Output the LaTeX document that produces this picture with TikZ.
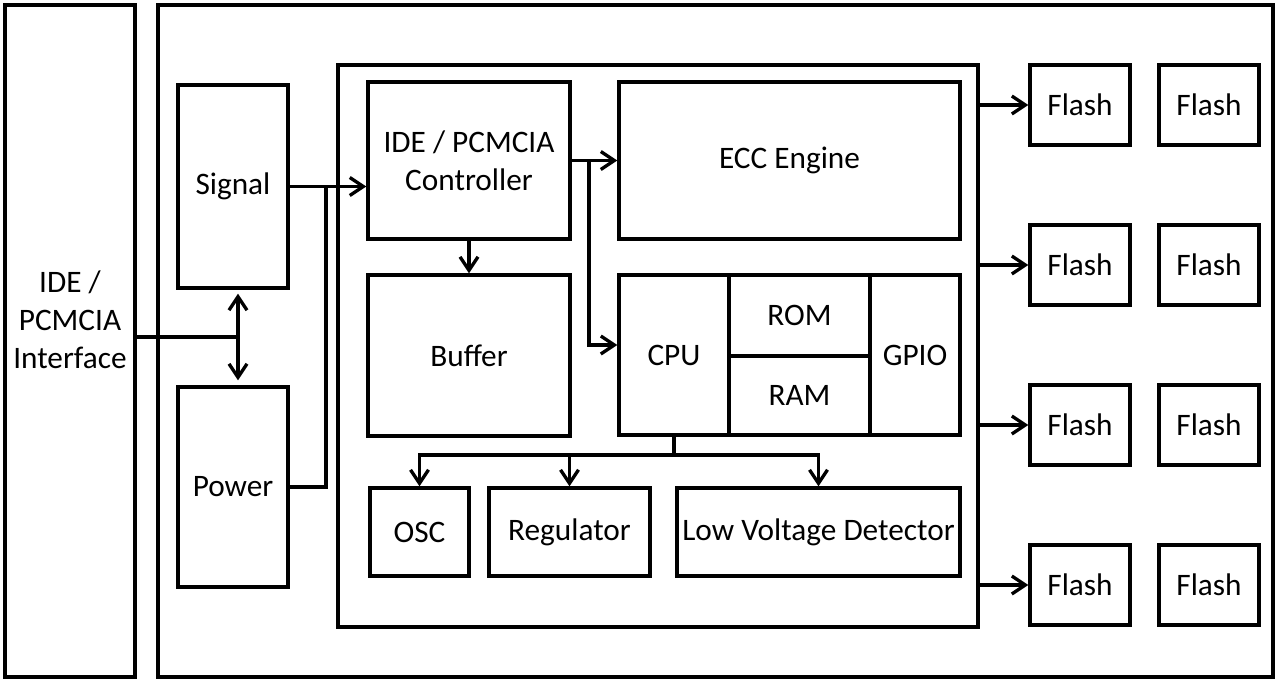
\documentclass[tikz,border=0pt]{standalone}
\usepackage{fontspec}
\setmainfont{Carlito}
\usetikzlibrary{arrows.meta}
\tikzset{
  blk/.style={draw, line width=1.9pt, inner sep=0pt, align=center,
    font=\fontsize{17.8}{21.5}\selectfont},
  lnk/.style={line width=1.9pt},
}

\begin{document}
\begin{tikzpicture}[>={Straight Barb[length=2.7mm,width=3.6mm,line width=1.9pt]}]
        \useasboundingbox (0,0) rectangle (25.5,-13.56);
        % outer frames
        \node[blk, minimum width=2.6cm, minimum height=13.44cm] (iface) at (1.40,-6.82) {};
        \node[blk, draw=none] (ifacelbl) at (1.40,-6.40) {IDE /\\PCMCIA\\Interface};
        \node[blk, minimum width=22.3cm, minimum height=13.44cm] (card) at (14.31,-6.82) {};
        \node[blk, minimum width=12.8cm, minimum height=11.24cm] (ctrlbox) at (13.16,-6.92) {};
        % front end
        \node[blk, minimum width=2.2cm, minimum height=4.06cm] (sig) at (4.66,-3.73) {Signal};
        \node[blk, minimum width=2.2cm, minimum height=4.0cm] (pwr) at (4.66,-9.74) {Power};
        % controller chip
        \node[blk, minimum width=4.04cm, minimum height=3.14cm] (idec) at (9.38,-3.21) {IDE / PCMCIA\\Controller};
        \node[blk, minimum width=6.82cm, minimum height=3.14cm] (ecc) at (15.79,-3.21) {ECC Engine};
        \node[blk, minimum width=4.04cm, minimum height=3.22cm] (buf) at (9.38,-7.11) {Buffer};
        \node[blk, minimum width=2.2cm, minimum height=3.2cm] (cpu) at (13.48,-7.10) {CPU};
        \node[blk, minimum width=2.82cm, minimum height=1.62cm] (rom) at (15.99,-6.31) {ROM};
        \node[blk, minimum width=2.82cm, minimum height=1.58cm] (ram) at (15.99,-7.91) {RAM};
        \node[blk, minimum width=1.8cm, minimum height=3.2cm] (gpio) at (18.30,-7.10) {GPIO};
        \node[blk, minimum width=1.98cm, minimum height=1.76cm] (osc) at (8.39,-10.64) {OSC};
        \node[blk, minimum width=3.22cm, minimum height=1.76cm] (reg) at (11.39,-10.64) {Regulator};
        \node[blk, minimum width=5.66cm, minimum height=1.76cm] (lvd) at (16.37,-10.64) {Low Voltage Detector};
        % flash chips
        \foreach \i/\y in {1/-2.1, 2/-5.3, 3/-8.5, 4/-11.7} {
          \node[blk, minimum width=2.0cm, minimum height=1.6cm] (fa\i) at (21.6,\y) {Flash};
          \node[blk, minimum width=2.0cm, minimum height=1.6cm] (fb\i) at (24.18,\y) {Flash};
          \draw[lnk, ->] (ctrlbox.east |- fa\i.west) -- (fa\i.west);
        }
        % connectors
        \coordinate (j1) at (4.76,-6.74);
        \coordinate (j2) at (6.52,-3.73);
        \coordinate (j3) at (11.78,-3.21);
        \coordinate (j4) at (13.48,-9.10);
        \draw[lnk] (iface.east |- j1) -- (j1);
        \draw[lnk, <->, shorten <=0.08cm, shorten >=0.1cm] (sig.south -| j1) -- (pwr.north -| j1);
        \draw[lnk, ->] (sig.east) -- (sig.east -| idec.west);
        \draw[lnk] (pwr.east) -| (j2);
        \draw[lnk, ->] (idec.east) -- (ecc.west);
        \draw[lnk, ->] (j3) |- (cpu.170);
        \draw[lnk, ->] (idec.south) -- (buf.north);
        \draw[lnk] (cpu.south) -- (j4);
        \draw[lnk, ->] (j4) -| (osc.north);
        \draw[lnk, ->] (j4) -| (reg.north);
        \draw[lnk, ->] (j4) -| (lvd.north);
      \end{tikzpicture}
\end{document}
